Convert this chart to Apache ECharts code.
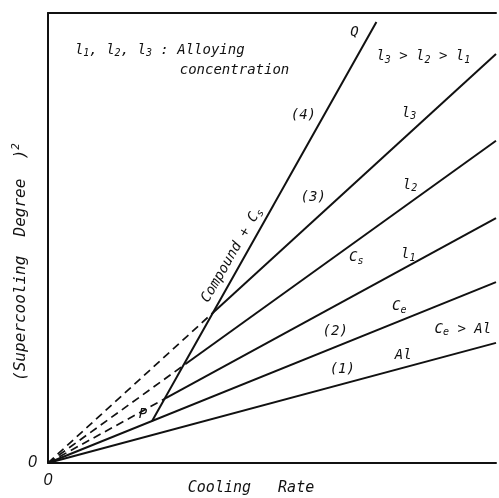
<!DOCTYPE html>
<html>
<head>
<meta charset="utf-8">
<script src="https://cdn.jsdelivr.net/npm/echarts@6/dist/echarts.min.js"></script>
<style>html,body{margin:0;padding:0;background:#fff}#c{width:499px;height:498px}</style>
</head>
<body>
<div id="c"></div>
<script>
// ---- data (arbitrary units 0..100) ----
const origin = [0, 0];
const pointP = [23.2, 9.3];
const pointQ = [73.3, 98.0];
const crossL1 = [26.3, 14.4];
const crossL2 = [30.7, 22.0];
const crossL3 = [36.7, 33.3];
const endAl = [100, 26.7];
const endCe = [100, 40.2];
const endL1 = [100, 54.4];
const endL2 = [100, 71.6];
const endL3 = [100, 90.9];
const xTicks = [0];
const yTicks = [0];

const FONT = 'DejaVu Sans Mono';
const ink = '#111';

const chart = echarts.init(document.getElementById('c'), null, {renderer: 'canvas'});

function solid(name, data) {
  return {type: 'line', name, data, showSymbol: false, symbol: 'none', silent: true,
    lineStyle: {color: ink, width: 2}, animation: false};
}
function dashed(name, data) {
  return {type: 'line', name, data, showSymbol: false, symbol: 'none', silent: true,
    lineStyle: {color: ink, width: 1.7, type: [8, 5]}, animation: false};
}

const labelStyle = {fontFamily: 'Liberation Sans', fontStyle: 'italic', fontSize: 16, color: ink};

chart.setOption({
  animation: false,
  grid: {left: 48, right: 2, top: 13, bottom: 35},
  xAxis: [{
    type: 'value', min: 0, max: 100, interval: 100,
    axisLine: {show: true, lineStyle: {color: ink, width: 2}},
    axisTick: {show: false}, splitLine: {show: false},
    axisLabel: Object.assign({margin: 10, formatter: v => xTicks.includes(v) ? String(v) : ''}, labelStyle)
  }, {
    type: 'value', min: 0, max: 100, position: 'top',
    axisLine: {show: true, lineStyle: {color: ink, width: 2}},
    axisTick: {show: false}, splitLine: {show: false}, axisLabel: {show: false}
  }],
  yAxis: {
    type: 'value', min: 0, max: 100, interval: 100,
    axisLine: {show: true, lineStyle: {color: ink, width: 2}},
    axisTick: {show: false}, splitLine: {show: false},
    axisLabel: Object.assign({margin: 11, formatter: v => yTicks.includes(v) ? String(v) : ''}, labelStyle)
  },
  series: [
    solid('Al', [origin, endAl]),
    solid('Ce', [origin, endCe]),
    solid('l1', [crossL1, endL1]),
    solid('l2', [crossL2, endL2]),
    solid('l3', [crossL3, endL3]),
    solid('PQ', [pointP, pointQ]),
    dashed('l1 dashed', [origin, crossL1]),
    dashed('l2 dashed', [origin, crossL2]),
    dashed('l3 dashed', [origin, crossL3])
  ]
});

const rich = {
  t: {fontFamily: FONT, fontStyle: 'italic', fontSize: 14, lineHeight: 18, fill: ink, color: ink},
  s: {fontFamily: FONT, fontStyle: 'italic', fontSize: 10, lineHeight: 10, verticalAlign: 'bottom', fill: ink, color: ink},
  u: {fontFamily: FONT, fontStyle: 'italic', fontSize: 11, lineHeight: 11, verticalAlign: 'top', fill: ink, color: ink},
  a: {fontFamily: FONT, fontStyle: 'italic', fontSize: 16, lineHeight: 20, fill: ink, color: ink},
  b: {fontFamily: FONT, fontStyle: 'italic', fontSize: 15, lineHeight: 20, fill: ink, color: ink}
};

// annotation texts, anchored in data coordinates
const notes = [
  {text: '{t|l}{s|1}{t|, l}{s|2}{t|, l}{s|3}{t| : Alloying}', at: [6.0, 91.8], align: 'left'},
  {text: '{t|concentration}', at: [29.4, 87.3], align: 'left'},
  {text: '{t|Q}', at: [68.4, 95.6]},
  {text: '{t|l}{s|3}{t| > l}{s|2}{t| > l}{s|1}', at: [73.3, 90.4], align: 'left'},
  {text: '{t|(4)}', at: [57.0, 77.3]},
  {text: '{t|l}{s|3}', at: [80.6, 77.8]},
  {text: '{t|(3)}', at: [59.2, 59.1]},
  {text: '{t|l}{s|2}', at: [80.8, 61.8]},
  {text: '{t|C}{s|s}', at: [68.8, 45.6]},
  {text: '{t|l}{s|1}', at: [80.4, 46.4]},
  {text: '{t|C}{s|e}', at: [78.4, 34.9]},
  {text: '{t|(2)}', at: [64.1, 29.3]},
  {text: '{t|C}{s|e}{t| > Al}', at: [92.6, 29.8]},
  {text: '{t|(1)}', at: [65.7, 20.7]},
  {text: '{t|Al}', at: [79.3, 24.0]},
  {text: '{t|P}', at: [21.2, 10.7]},
  {text: '{t|Compound + C}{s|s}', at: [41.0, 46.2], rotate: 60}
];

const graphics = notes.map(n => {
  const p = chart.convertToPixel({gridIndex: 0}, n.at);
  return {
    type: 'text', x: p[0], y: p[1], rotation: (n.rotate || 0) * Math.PI / 180, silent: true,
    style: {text: n.text, rich, align: n.align || 'center', verticalAlign: 'middle', fill: ink}
  };
});
graphics.push({
  type: 'text', x: 251, y: 488, silent: true,
  style: {text: '{b|Cooling   Rate}', rich, align: 'center', verticalAlign: 'middle', fill: ink}
});
graphics.push({
  type: 'text', x: 21, y: 262, rotation: Math.PI / 2, silent: true,
  style: {text: '{a|(Supercooling  Degree  )}{u|2}', rich, align: 'center', verticalAlign: 'middle', fill: ink}
});
chart.setOption({graphic: graphics});
</script>
</body>
</html>
